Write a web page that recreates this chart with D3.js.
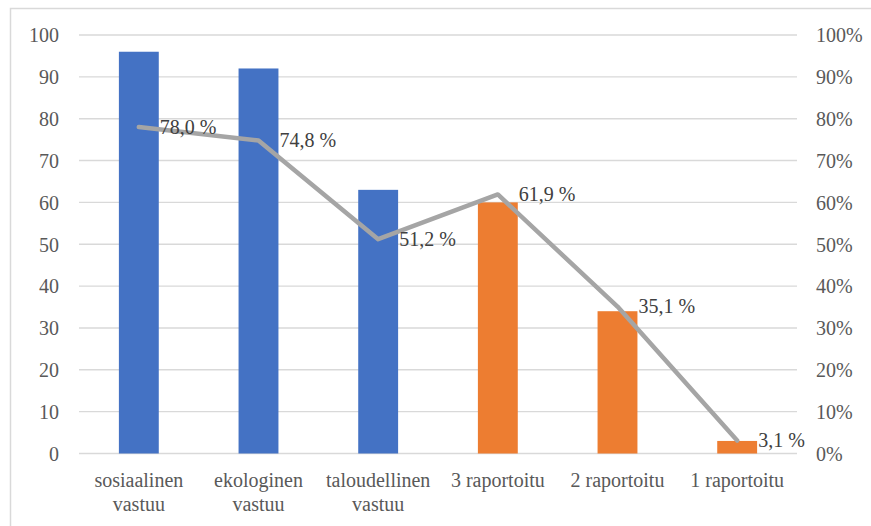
<!DOCTYPE html>
<html><head><meta charset="utf-8">
<script src="https://cdn.jsdelivr.net/npm/d3@7"></script>
<style>body{margin:0;background:#fff}svg{display:block}svg text{font-family:"Liberation Serif","Times New Roman",Tinos,serif !important}</style>
</head><body><svg id="c" width="871" height="526"></svg>
<script>
const categories = [["sosiaalinen","vastuu"],["ekologinen","vastuu"],["taloudellinen","vastuu"],["3 raportoitu"],["2 raportoitu"],["1 raportoitu"]];
const barValues = [96, 92, 63, 60, 34, 3];
const barGroups = ["vastuu","vastuu","vastuu","raportoitu","raportoitu","raportoitu"];
const lineValues = [78.0, 74.8, 51.2, 61.9, 35.1, 3.1];
const leftTicks = [0,10,20,30,40,50,60,70,80,90,100];
const rightTicks = [0,10,20,30,40,50,60,70,80,90,100];

const svg = d3.select("#c");
const m = {l:79, r:797, t:35, b:453.5};
svg.append("rect").attr("x",10.5).attr("y",8.5).attr("width",880).attr("height",540)
  .attr("fill","#fff").attr("stroke","#d9d9d9").attr("stroke-width",1.5);

const x = d3.scaleBand().domain(d3.range(categories.length)).range([m.l,m.r]).paddingInner(2/3).paddingOuter(1/3);
const y = d3.scaleLinear().domain([0,100]).range([m.b,m.t]);
const y2 = d3.scaleLinear().domain([0,100]).range([m.b,m.t]);
const color = d3.scaleOrdinal().domain(["vastuu","raportoitu"]).range(["#4472c4","#ed7d31"]);

// gridlines
svg.append("g").selectAll("line").data(leftTicks).join("line")
  .attr("x1",m.l).attr("x2",m.r).attr("y1",d=>y(d)).attr("y2",d=>y(d))
  .attr("stroke","#d9d9d9").attr("stroke-width",1.4);

// left axis
const ax = svg.append("g").attr("transform",`translate(${m.l-20},0)`)
  .call(d3.axisLeft(y).tickValues(leftTicks).tickSize(0).tickPadding(0));
ax.select(".domain").remove();
ax.selectAll("text").attr("font-size",20).attr("fill","#595959").attr("dy","0.34em");

// right axis
const ar = svg.append("g").attr("transform",`translate(${m.r+19},0)`)
  .call(d3.axisRight(y2).tickValues(rightTicks).tickSize(0).tickPadding(0).tickFormat(d=>d+"%"));
ar.select(".domain").remove();
ar.selectAll("text").attr("font-size",20).attr("fill","#595959").attr("dy","0.34em");

// bars
svg.append("g").selectAll("rect").data(barValues).join("rect")
  .attr("x",(d,i)=>x(i)).attr("width",x.bandwidth())
  .attr("y",d=>y(d)).attr("height",d=>y(0)-y(d))
  .attr("fill",(d,i)=>color(barGroups[i]));

// line
const cx = i => x(i)+x.bandwidth()/2;
svg.append("path").datum(lineValues)
  .attr("d", d3.line().x((d,i)=>cx(i)).y(d=>y2(d)))
  .attr("fill","none").attr("stroke","#a5a5a5").attr("stroke-width",4.5).attr("stroke-linejoin","round").attr("stroke-linecap","round");

// data labels
svg.append("g").selectAll("text").data(lineValues).join("text")
  .attr("x",(d,i)=>cx(i)+21).attr("y",d=>y2(d)).attr("dy","0.34em")
  .attr("font-size",20).attr("fill","#404040")
  .text(d=>d.toFixed(1).replace(".",",")+" %");

// category labels
const cg = svg.append("g");
categories.forEach((lines,i)=>{
  const t = cg.append("text").attr("text-anchor","middle")
    .attr("font-size",20).attr("fill","#595959");
  lines.forEach((s,j)=>t.append("tspan").attr("x",cx(i)).attr("y",487+j*24).text(s));
});
</script></body></html>
